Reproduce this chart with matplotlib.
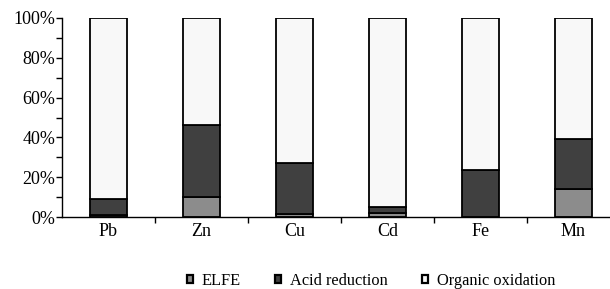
import matplotlib
matplotlib.use("Agg")
import matplotlib.pyplot as plt
from matplotlib.patches import Patch
from matplotlib.ticker import MultipleLocator, FixedLocator, NullFormatter
import numpy as np

plt.rcParams['font.family'] = ['Liberation Serif', 'DejaVu Serif']

metals = ['Pb', 'Zn', 'Cu', 'Cd', 'Fe', 'Mn']
elfe = [1, 10, 1.5, 2, 0, 14]
acid = [8, 36, 25.5, 3, 23.5, 25]
organic = [100 - e - a for e, a in zip(elfe, acid)]

names = ['ELFE', 'Acid reduction', 'Organic oxidation']
colors = ['#8c8c8c', '#404040', '#f8f8f8']

fig = plt.figure(figsize=(6.10, 2.89), dpi=100)
ax = fig.add_axes([62/610, 1 - 217/289, 558/610, 199/289])

x = np.arange(len(metals))
bottom = np.zeros(len(metals))
for vals, c in zip([elfe, acid, organic], colors):
    ax.bar(x, vals, 0.4, bottom=bottom, color=c, edgecolor='black', linewidth=1.3)
    bottom += np.array(vals)

ax.set_xlim(-0.5, len(metals) - 0.5)
ax.set_ylim(0, 100)
ax.spines['top'].set_visible(False)
ax.spines['right'].set_visible(False)
ax.spines['left'].set_linewidth(1.0)
ax.spines['bottom'].set_linewidth(1.0)

ax.set_yticks(np.arange(0, 101, 20))
ax.set_yticklabels([f'{v}%' for v in range(0, 101, 20)], fontsize=13)
ax.yaxis.set_minor_locator(MultipleLocator(10))
ax.tick_params(axis='y', which='both', length=4, width=1, direction='out', pad=1)

ax.set_xticks(x)
ax.set_xticklabels(metals, fontsize=13)
ax.tick_params(axis='x', which='major', length=0, pad=4)
ax.xaxis.set_minor_locator(FixedLocator(np.arange(0.5, len(metals) - 0.5, 1)))
ax.xaxis.set_minor_formatter(NullFormatter())
ax.tick_params(axis='x', which='minor', length=4, width=1, direction='out')

handles = [Patch(facecolor=c, edgecolor='black', linewidth=1.6) for c in colors]
fig.legend(handles, names, loc='center', bbox_to_anchor=(371/610, 1 - 281/289),
           ncol=3, frameon=False, fontsize=11.8, handlelength=0.35, handleheight=0.35,
           handletextpad=0.55, columnspacing=2.1)

fig.savefig('out.png', dpi=100)
